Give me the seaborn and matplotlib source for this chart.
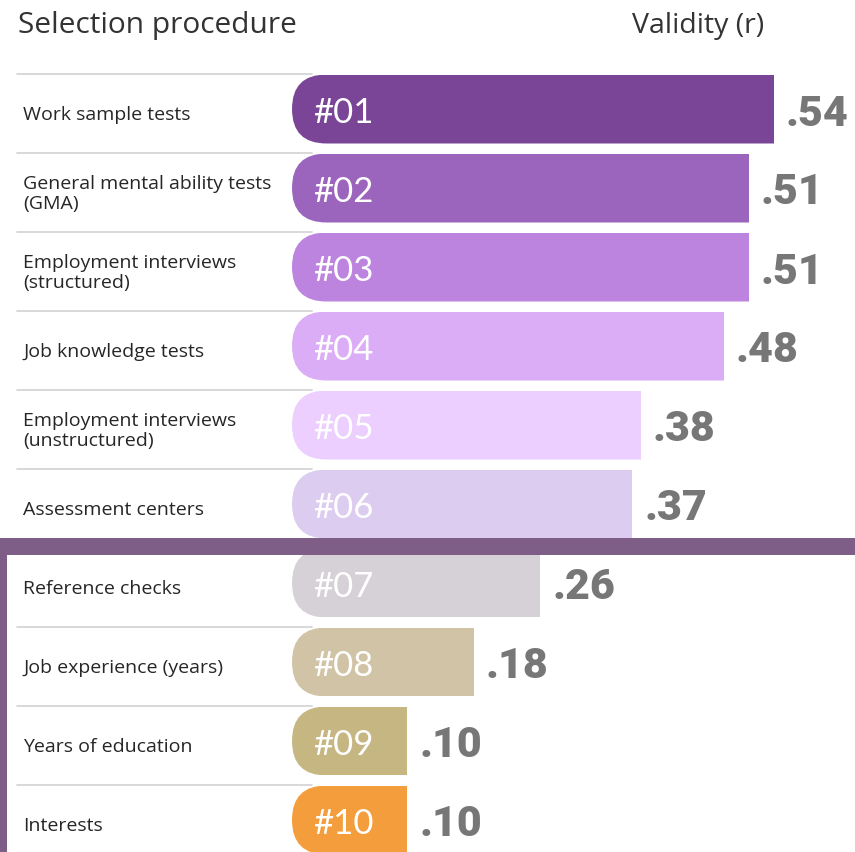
import matplotlib
matplotlib.use("Agg")
import matplotlib.pyplot as plt
import seaborn as sns
import pandas as pd
from matplotlib.patches import FancyBboxPatch, Rectangle
from matplotlib.transforms import IdentityTransform, blended_transform_factory

# ---------------- data ----------------
procedures = [
    "Work sample tests",
    "General mental ability tests\n(GMA)",
    "Employment interviews\n(structured)",
    "Job knowledge tests",
    "Employment interviews\n(unstructured)",
    "Assessment centers",
    "Reference checks",
    "Job experience (years)",
    "Years of education",
    "Interests",
]
validity = [0.54, 0.51, 0.51, 0.48, 0.38, 0.37, 0.26, 0.18, 0.10, 0.10]
value_labels = [".54", ".51", ".51", ".48", ".38", ".37", ".26", ".18", ".10", ".10"]
ranks = ["#01", "#02", "#03", "#04", "#05", "#06", "#07", "#08", "#09", "#10"]
bar_colors = ["#7B4597", "#9C65BD", "#BC83DF", "#DCADF7", "#ECCEFF",
              "#DCCDF0", "#D6D1D6", "#D1C3A5", "#C6B682", "#F49D3D"]
title_left = "Selection procedure"
title_right = "Validity (r)"

# ---------------- layout (pixels) ----------------
W, H = 855, 853
X0, S = 323.6, 834.0          # pixel of r=0 and pixels per unit r
CAP_LEFT = 292.0              # left end of rounded cap
ROW0, PITCH, BAR_H = 110.0, 79.0, 69.0

sns.set_style("white")
plt.rcParams["font.family"] = ["Open Sans", "DejaVu Sans"]

fig = plt.figure(figsize=(W / 100, H / 100), dpi=100)
ax = fig.add_axes([0, 0, 1, 1])

df = pd.DataFrame({"procedure": procedures, "validity": validity})
sns.barplot(data=df, y="procedure", x="validity", hue="procedure",
            palette=bar_colors, orient="h", width=BAR_H / PITCH,
            legend=False, saturation=1, ax=ax, zorder=2)

ax.set_xlim(-X0 / S, (W - X0) / S)
ax.set_ylim((H - ROW0) / PITCH, -ROW0 / PITCH)
ax.axis("off")

lead = (X0 - CAP_LEFT) / S
bars = [p for p in ax.patches if isinstance(p, Rectangle)]
for p in bars:
    w = p.get_width()
    p.set_x(-lead)
    p.set_width(w + lead)
    p.set_linewidth(0)
    (x0d, y0d), (x1d, y1d) = ax.transData.transform(
        [(-lead, p.get_y()), (w, p.get_y() + p.get_height())])
    ylo, yhi = min(y0d, y1d), max(y0d, y1d)
    hd = yhi - ylo
    clip = FancyBboxPatch((x0d, ylo), (x1d - x0d) + 3 * hd, hd,
                          boxstyle=f"round,pad=0,rounding_size={hd / 2}",
                          transform=IdentityTransform())
    p.set_clip_path(clip)

# separator lines
for i in range(len(procedures)):
    y = i - (BAR_H / 2 + 0.5) / PITCH
    ax.axhline(y, xmin=17 / W, xmax=(CAP_LEFT + 20) / W,
               color="#d6d6d6", lw=1.3, zorder=1)

trans_lab = blended_transform_factory(ax.transAxes, ax.transData)
for i, (lab, rk, v, vl) in enumerate(zip(procedures, ranks, validity, value_labels)):
    ax.text(23 / W, i + 5 / PITCH, lab, transform=trans_lab, ha="left",
            va="center", fontsize=14, color="#262626", linespacing=1.12)
    ax.text(313 / W, i + 3 / PITCH, rk, transform=trans_lab, ha="left",
            va="center", fontsize=25, color="white", fontweight="normal",
            family=["Lato", "DejaVu Sans"], zorder=3)
    ax.annotate(vl, xy=(v, i), xytext=(12, -4), textcoords="offset pixels",
                ha="left", va="center", fontsize=31, color="#777777",
                fontweight="black", family=["Roboto", "DejaVu Sans"], zorder=3)

# header
fig.text(18 / W, 1 - 26 / H, title_left, ha="left", va="center",
         fontsize=21.5, color="#333333")
fig.text(764 / W, 1 - 26 / H, title_right, ha="right", va="center",
         fontsize=20.5, color="#333333")

# purple frame band
band = "#7E5E87"
fig.patches.append(Rectangle((0, 1 - 556 / H), 1, 17 / H, transform=fig.transFigure,
                             facecolor=band, edgecolor="none", zorder=10))
fig.patches.append(Rectangle((0, 0), 7 / W, 1 - 539 / H, transform=fig.transFigure,
                             facecolor=band, edgecolor="none", zorder=10))

fig.savefig("out.png", dpi=100, facecolor="white")
